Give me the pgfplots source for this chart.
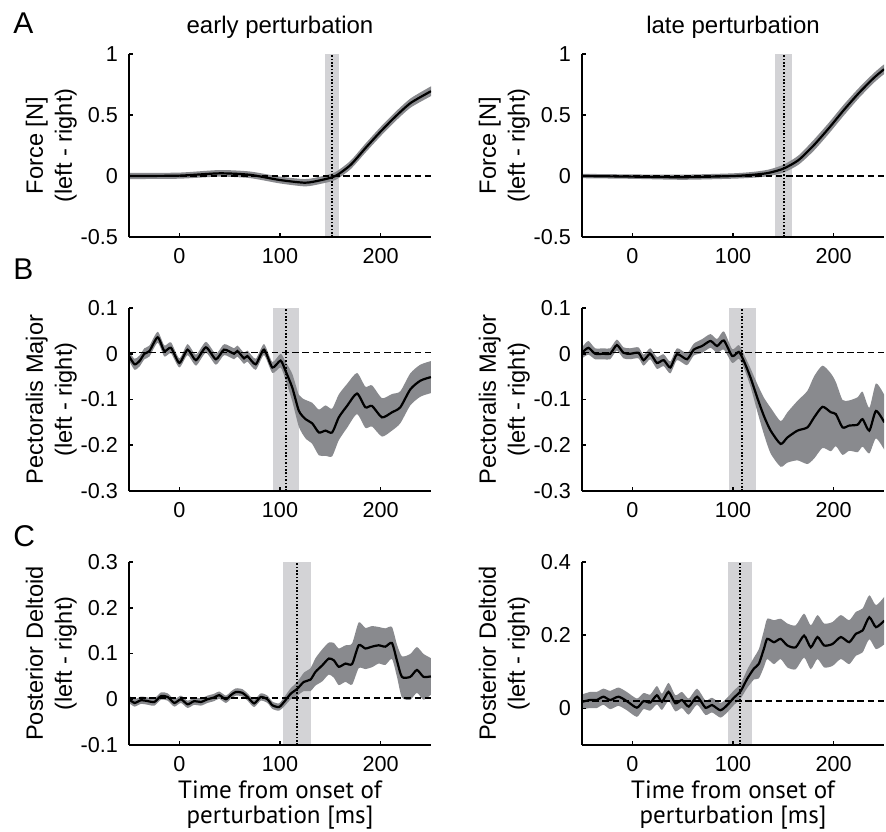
\documentclass[border=0pt]{standalone}
\usepackage{fontspec}
\setmainfont{Liberation Sans}
\newfontfamily\xlfont{PT Sans}
\usepackage{pgfplots}
\pgfplotsset{compat=1.18}
\usepackage{pgfplotstable}
\usepgfplotslibrary{fillbetween}
\definecolor{bandlight}{RGB}{211,211,214}
\definecolor{banddark}{RGB}{137,138,142}
\tikzset{fill between/on layer=main}

% force, early perturbation
\pgfplotstableread{
x m lo hi
-50 0 -0.025 0.025
0 0.003 -0.022 0.028
40 0.022 -0.005 0.049
70 0.01 -0.017 0.037
100 -0.033 -0.061 -0.005
125 -0.055 -0.085 -0.025
140 -0.035 -0.065 -0.005
155 0 -0.032 0.032
170 0.09 0.055 0.125
185 0.23 0.193 0.267
200 0.365 0.327 0.403
215 0.49 0.452 0.528
230 0.60 0.562 0.638
250 0.695 0.655 0.735
}\fAl
% force, late perturbation
\pgfplotstableread{
x m lo hi
-50 0 -0.018 0.018
0 -0.005 -0.023 0.013
50 -0.01 -0.031 0.011
100 0 -0.022 0.022
120 0.01 -0.014 0.034
135 0.025 -0.002 0.052
150 0.06 0.028 0.092
165 0.13 0.092 0.168
180 0.25 0.205 0.295
195 0.39 0.345 0.435
210 0.54 0.495 0.585
225 0.68 0.638 0.722
240 0.805 0.765 0.845
250 0.875 0.835 0.915
}\fAr
% pectoralis major, early
\pgfplotstableread{
x m lo hi
-50 -0.005 -0.015 0.005
-44.5 -0.023 -0.035 -0.011
-39.6 -0.016 -0.028 -0.004
-34.7 0 -0.012 0.012
-29.7 0.006 -0.006 0.018
-21.5 0.036 0.024 0.048
-14.9 0.006 -0.006 0.018
-8.3 0.013 0.001 0.025
0 -0.02 -0.03 -0.01
8.2 0.009 -0.003 0.021
16.5 -0.014 -0.026 -0.002
26.4 0.014 0.002 0.026
36.3 -0.012 -0.024 0
44.5 0.009 -0.003 0.021
54.4 0 -0.012 0.012
57.7 0.006 -0.006 0.018
64.3 -0.01 -0.022 0.002
67.6 -0.005 -0.017 0.007
75.9 -0.023 -0.035 -0.011
84.1 0.009 -0.003 0.021
92.4 -0.03 -0.042 -0.018
100.6 -0.015 -0.03 0
105.6 -0.038 -0.058 -0.018
112.2 -0.074 -0.104 -0.044
118.8 -0.125 -0.16 -0.09
125.4 -0.143 -0.185 -0.101
132 -0.152 -0.197 -0.107
138.6 -0.172 -0.222 -0.122
145.2 -0.168 -0.223 -0.113
151.8 -0.172 -0.224 -0.12
158.4 -0.139 -0.189 -0.089
166.6 -0.114 -0.162 -0.066
176.5 -0.087 -0.132 -0.042
184.8 -0.117 -0.162 -0.072
191.4 -0.114 -0.159 -0.069
201.3 -0.139 -0.181 -0.097
211.2 -0.128 -0.168 -0.088
219.5 -0.117 -0.152 -0.082
229.4 -0.078 -0.113 -0.043
239.3 -0.059 -0.094 -0.024
249.9 -0.051 -0.086 -0.016
}\pBl
% pectoralis major, late
\pgfplotstableread{
x m lo hi
-50 0.002 -0.01 0.014
-43.7 0.013 -0.002 0.028
-37 0 -0.012 0.012
-28.7 0 -0.012 0.012
-22 0 -0.012 0.012
-15.4 0.019 0.007 0.031
-8.8 0.002 -0.01 0.014
-2.2 0 -0.012 0.012
6.1 0.002 -0.01 0.014
11.1 -0.014 -0.026 -0.002
17.8 0 -0.012 0.012
24.4 -0.02 -0.033 -0.007
31.1 -0.014 -0.027 -0.001
37.7 -0.03 -0.043 -0.017
44.4 -0.001 -0.014 0.012
54.3 -0.012 -0.025 0.001
61 0.009 -0.004 0.022
69.3 0.017 0.002 0.032
77.6 0.028 0.013 0.043
84.2 0.017 0.002 0.032
90.9 0.029 0.009 0.049
99.2 -0.005 -0.02 0.01
105.8 0.004 -0.011 0.019
110.8 -0.016 -0.031 -0.001
117.4 -0.052 -0.072 -0.032
124.1 -0.096 -0.126 -0.066
130.7 -0.136 -0.176 -0.096
137.4 -0.168 -0.218 -0.118
147.3 -0.197 -0.247 -0.147
154 -0.183 -0.238 -0.128
164 -0.168 -0.233 -0.103
173.9 -0.161 -0.241 -0.081
180.6 -0.139 -0.229 -0.049
188.9 -0.116 -0.206 -0.026
197.2 -0.128 -0.213 -0.043
202.2 -0.132 -0.202 -0.062
208.8 -0.161 -0.221 -0.101
215.4 -0.157 -0.212 -0.102
223.8 -0.155 -0.215 -0.095
228.7 -0.143 -0.203 -0.083
235.4 -0.168 -0.218 -0.118
242 -0.125 -0.185 -0.065
250.3 -0.15 -0.21 -0.09
}\pBr
% posterior deltoid, early
\pgfplotstableread{
x m lo hi
-50 0 -0.008 0.008
-44.5 -0.008 -0.016 0
-38 -0.002 -0.01 0.006
-31.4 -0.004 -0.012 0.004
-24.8 -0.006 -0.014 0.002
-18.2 0.007 -0.001 0.015
-11.6 0.005 -0.003 0.013
-5 -0.008 -0.016 0
1.6 0 -0.008 0.008
8.2 -0.011 -0.019 -0.003
14.8 -0.004 -0.012 0.004
21.4 -0.006 -0.014 0.002
28 0 -0.008 0.008
34.6 0.004 -0.004 0.012
39.6 0.009 0.001 0.017
46.2 0 -0.008 0.008
51.2 0.009 0.001 0.017
56.1 0.016 0.008 0.024
62.7 0.014 0.006 0.022
67.7 0.005 -0.003 0.013
74.3 -0.009 -0.017 -0.001
80.9 0.005 -0.003 0.013
87.5 0 -0.008 0.008
92.4 -0.013 -0.021 -0.005
99 -0.017 -0.025 -0.009
104 -0.006 -0.016 0.004
110.6 0.012 0 0.024
117.2 0.023 0.008 0.038
123.7 0.038 0.018 0.058
130.3 0.043 0.018 0.068
135.3 0.06 0.03 0.09
141.9 0.074 0.039 0.109
148.5 0.089 0.054 0.124
153.5 0.085 0.047 0.123
158.4 0.071 0.031 0.111
165 0.078 0.038 0.118
171.6 0.077 0.032 0.122
178.2 0.118 0.068 0.168
184.8 0.111 0.066 0.156
191.4 0.115 0.07 0.16
198 0.118 0.078 0.158
204.6 0.115 0.075 0.155
211.2 0.123 0.088 0.158
216.1 0.085 0.05 0.12
221.1 0.049 0.004 0.094
229.4 0.049 -0.001 0.099
236 0.064 0.014 0.114
242.6 0.049 -0.001 0.099
249.9 0.05 0.01 0.09
}\dCl
% posterior deltoid, late
\pgfplotstableread{
x m lo hi
-50 0.018 -0.002 0.038
-42 0.023 0.001 0.045
-35.4 0.023 0.001 0.045
-28.7 0.032 0.01 0.054
-22 0.023 -0.002 0.048
-13.8 0.032 0.007 0.057
-5.5 0.02 -0.005 0.045
4.5 0.002 -0.023 0.027
11.1 0.02 -0.002 0.042
17.8 0.016 -0.006 0.038
24.4 0.036 0.011 0.061
29.4 0.018 -0.004 0.04
36 0.045 0.02 0.07
42.7 0.014 -0.008 0.036
49.3 0.023 0.001 0.045
56 0.005 -0.017 0.027
64.3 0.032 0.01 0.054
72.6 0.002 -0.018 0.022
79.2 0.009 -0.011 0.029
87.5 -0.005 -0.025 0.015
94.2 0.009 -0.011 0.029
100.8 0.029 0.009 0.049
107.5 0.047 0.027 0.067
114.1 0.081 0.056 0.106
120.8 0.109 0.079 0.139
125.7 0.122 0.082 0.162
130.7 0.163 0.113 0.213
134 0.19 0.135 0.245
140.7 0.181 0.121 0.241
147.3 0.19 0.135 0.245
154 0.172 0.112 0.232
162.3 0.167 0.107 0.227
170.6 0.199 0.139 0.259
177.2 0.167 0.107 0.227
183.9 0.195 0.135 0.255
190.5 0.172 0.112 0.232
198.8 0.176 0.116 0.236
207.1 0.195 0.135 0.255
215.4 0.181 0.121 0.241
222.1 0.204 0.144 0.264
228.7 0.213 0.153 0.273
235.4 0.249 0.189 0.309
242 0.222 0.162 0.282
250.3 0.24 0.175 0.305
}\dCr

\pgfplotsset{every axis title shift=0pt,
emgpanel/.style={
  scale only axis, width=151pt, height=91.5pt, anchor=north west,
  axis lines=left, axis line style={-, line width=1pt, black},
  axis on top,
  xmin=-50, xmax=250, xtick={0,100,200}, xticklabels={0,100,200},
  tick align=inside, major tick length=1.8pt, tick style={line width=0.8pt, black},
  tick label style={font=\fontsize{10.8}{13}\selectfont},
  yticklabel style={xshift=-2pt},
  xticklabel style={yshift=-2pt},
  ylabel style={at={(axis description cs:-0.172,0.5)}, anchor=south, inner sep=0pt,
    align=center, font=\fontsize{11.8}{14.5}\selectfont},
  title style={at={(axis description cs:0.5,1)}, anchor=base, yshift=10.5pt,
    font=\fontsize{12}{14}\selectfont},
  xlabel style={at={(axis description cs:0.5,-0.195)}, anchor=north, inner sep=0pt,
    align=center, font={\xlfont\fontsize{12.5}{12.5}\selectfont}},
},
onsetband/.style={draw=none, fill=bandlight},
meanline/.style={black, line width=1.1pt, smooth, tension=0.4},
edgeline/.style={draw=none, smooth, tension=0.4},
zeroline/.style={black, line width=0.75pt, dash pattern=on 3.3pt off 1.8pt},
onsetline/.style={black, line width=0.9pt, dash pattern=on 0.8pt off 0.9pt}}

\begin{document}
\begin{tikzpicture}
\node[anchor=base west, inner sep=0pt, font=\fontsize{15}{15}\selectfont] at (6.5pt,-16.5pt) {A};
\node[anchor=base west, inner sep=0pt, font=\fontsize{15}{15}\selectfont] at (6.5pt,-139.5pt) {B};
\node[anchor=base west, inner sep=0pt, font=\fontsize{15}{15}\selectfont] at (6.5pt,-273pt) {C};

% ---- row A
\begin{axis}[emgpanel, at={(64.5pt,-27pt)}, ymin=-0.5, ymax=1,
  ytick={-0.5,0,0.5,1}, yticklabels={-0.5,0,0.5,1},
  title={early perturbation}, ylabel={Force [N]\\(left - right)}]
\addplot[onsetband] coordinates {(145,-0.5) (159,-0.5) (159,1) (145,1)};
\addplot[edgeline, name path=aLu] table[x=x, y=hi]{\fAl};
\addplot[edgeline, name path=aLd] table[x=x, y=lo]{\fAl};
\addplot[fill=banddark, draw=none] fill between[of=aLu and aLd];
\addplot[zeroline] coordinates {(-50,0) (250,0)};
\addplot[meanline] table[x=x, y=m]{\fAl};
\addplot[onsetline] coordinates {(152,-0.5) (152,1)};
\end{axis}

\begin{axis}[emgpanel, at={(291pt,-27pt)}, ymin=-0.5, ymax=1,
  ytick={-0.5,0,0.5,1}, yticklabels={-0.5,0,0.5,1},
  title={late perturbation}, ylabel={Force [N]\\(left - right)}]
\addplot[onsetband] coordinates {(142,-0.5) (159,-0.5) (159,1) (142,1)};
\addplot[edgeline, name path=aRu] table[x=x, y=hi]{\fAr};
\addplot[edgeline, name path=aRd] table[x=x, y=lo]{\fAr};
\addplot[fill=banddark, draw=none] fill between[of=aRu and aRd];
\addplot[zeroline] coordinates {(-50,0) (250,0)};
\addplot[meanline] table[x=x, y=m]{\fAr};
\addplot[onsetline] coordinates {(151,-0.5) (151,1)};
\end{axis}

% ---- row B
\begin{axis}[emgpanel, at={(64.5pt,-154pt)}, ymin=-0.3, ymax=0.1,
  ytick={-0.3,-0.2,-0.1,0,0.1}, yticklabels={-0.3,-0.2,-0.1,0,0.1},
  ylabel={Pectoralis Major\\(left - right)}]
\addplot[onsetband] coordinates {(93,-0.3) (119,-0.3) (119,0.1) (93,0.1)};
\addplot[edgeline, name path=bLu] table[x=x, y=hi]{\pBl};
\addplot[edgeline, name path=bLd] table[x=x, y=lo]{\pBl};
\addplot[fill=banddark, draw=none] fill between[of=bLu and bLd];
\addplot[zeroline] coordinates {(-50,0.003) (250,0.003)};
\addplot[meanline] table[x=x, y=m]{\pBl};
\addplot[onsetline] coordinates {(106,-0.3) (106,0.1)};
\end{axis}

\begin{axis}[emgpanel, at={(291pt,-154pt)}, ymin=-0.3, ymax=0.1,
  ytick={-0.3,-0.2,-0.1,0,0.1}, yticklabels={-0.3,-0.2,-0.1,0,0.1},
  ylabel={Pectoralis Major\\(left - right)}]
\addplot[onsetband] coordinates {(96.5,-0.3) (123,-0.3) (123,0.1) (96.5,0.1)};
\addplot[edgeline, name path=bRu] table[x=x, y=hi]{\pBr};
\addplot[edgeline, name path=bRd] table[x=x, y=lo]{\pBr};
\addplot[fill=banddark, draw=none] fill between[of=bRu and bRd];
\addplot[zeroline] coordinates {(-50,0.003) (250,0.003)};
\addplot[meanline] table[x=x, y=m]{\pBr};
\addplot[onsetline] coordinates {(109,-0.3) (109,0.1)};
\end{axis}

% ---- row C
\begin{axis}[emgpanel, at={(64.5pt,-281pt)}, ymin=-0.1, ymax=0.3,
  ytick={-0.1,0,0.1,0.2,0.3}, yticklabels={-0.1,0,0.1,0.2,0.3},
  ylabel={Posterior Deltoid\\(left - right)},
  xlabel={Time from onset of\\perturbation [ms]}]
\addplot[onsetband] coordinates {(103,-0.1) (131,-0.1) (131,0.3) (103,0.3)};
\addplot[edgeline, name path=cLu] table[x=x, y=hi]{\dCl};
\addplot[edgeline, name path=cLd] table[x=x, y=lo]{\dCl};
\addplot[fill=banddark, draw=none] fill between[of=cLu and cLd];
\addplot[zeroline] coordinates {(-50,0.003) (250,0.003)};
\addplot[meanline] table[x=x, y=m]{\dCl};
\addplot[onsetline] coordinates {(117,-0.1) (117,0.3)};
\end{axis}

\begin{axis}[emgpanel, at={(291pt,-281pt)}, ymin=-0.1, ymax=0.4,
  ytick={0,0.2,0.4}, yticklabels={0,0.2,0.4},
  ylabel={Posterior Deltoid\\(left - right)},
  xlabel={Time from onset of\\perturbation [ms]}]
\addplot[onsetband] coordinates {(95.5,-0.1) (119,-0.1) (119,0.4) (95.5,0.4)};
\addplot[edgeline, name path=cRu] table[x=x, y=hi]{\dCr};
\addplot[edgeline, name path=cRd] table[x=x, y=lo]{\dCr};
\addplot[fill=banddark, draw=none] fill between[of=cRu and cRd];
\addplot[zeroline] coordinates {(-50,0.02) (250,0.02)};
\addplot[meanline] table[x=x, y=m]{\dCr};
\addplot[onsetline] coordinates {(107,-0.1) (107,0.4)};
\end{axis}

\pgfresetboundingbox
\path[use as bounding box] (0,0) rectangle (443pt,-415.5pt);
\end{tikzpicture}
\end{document}
